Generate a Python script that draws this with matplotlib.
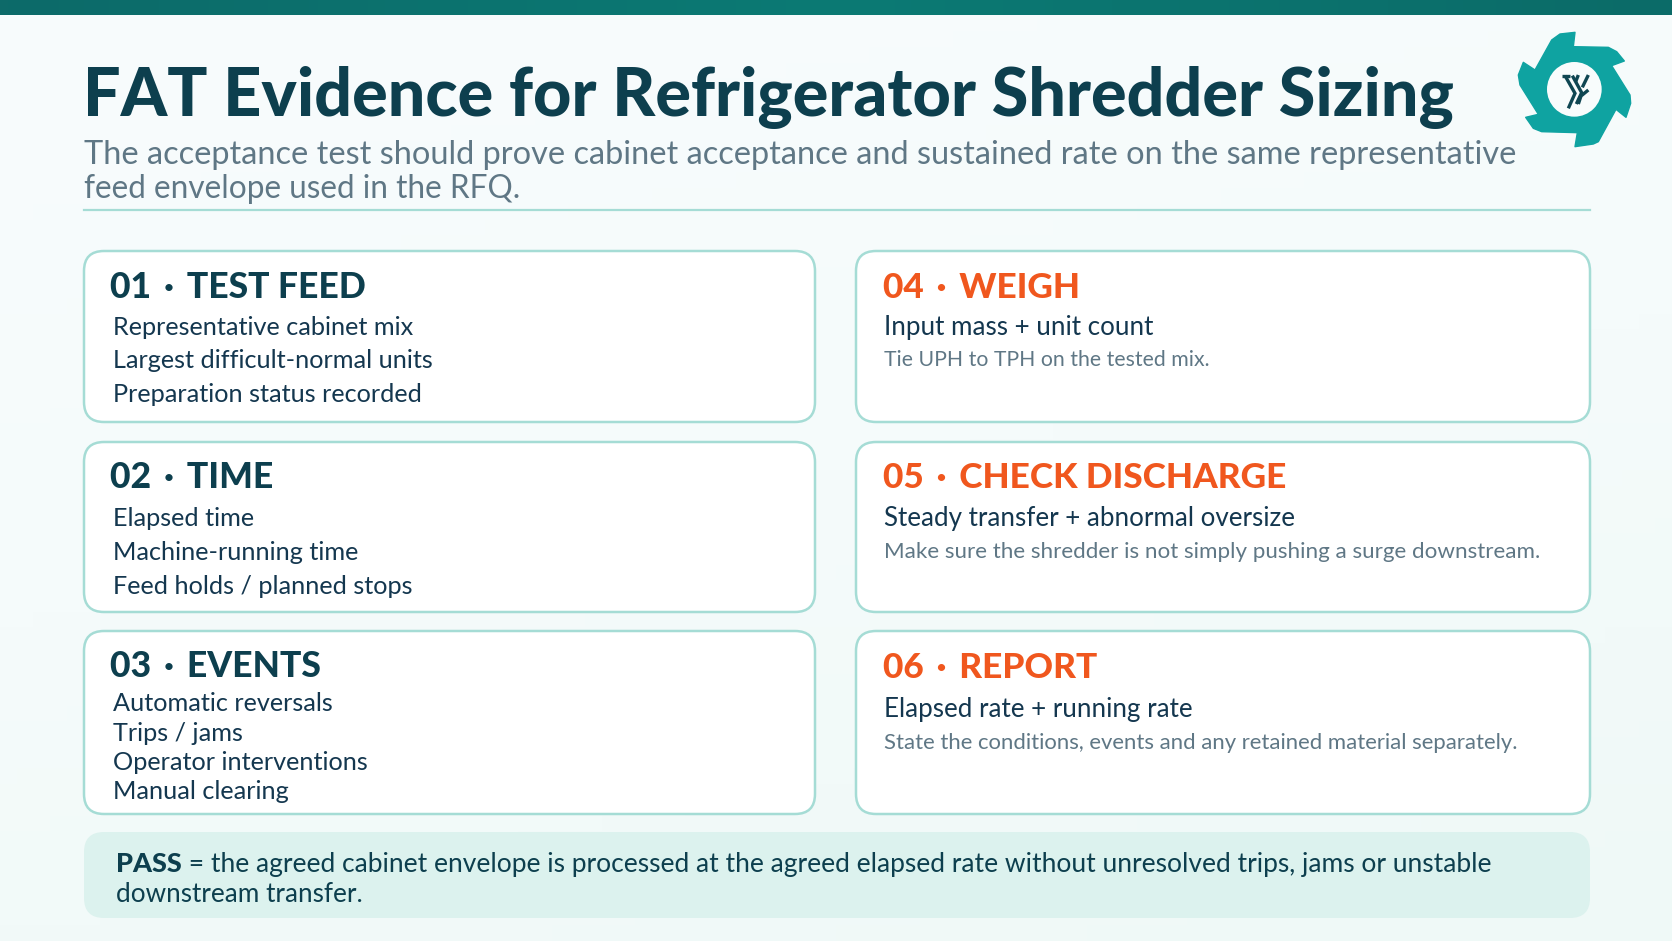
import numpy as np
import matplotlib
matplotlib.use("Agg")
import matplotlib.pyplot as plt
from matplotlib.patches import FancyBboxPatch, Polygon, Circle
from matplotlib.colors import LinearSegmentedColormap

FONT = "Lato"
TITLE = "FAT Evidence for Refrigerator Shredder Sizing"
SUBTITLE = ["The acceptance test should prove cabinet acceptance and sustained rate on the same representative",
            "feed envelope used in the RFQ."]
SEP = " \u2009\u00b7\u2009 "
LEFT_HEADS = ["01" + SEP + "TEST FEED", "02" + SEP + "TIME", "03" + SEP + "EVENTS"]
LEFT_LINES = [["Representative cabinet mix", "Largest difficult-normal units", "Preparation status recorded"],
              ["Elapsed time", "Machine-running time", "Feed holds / planned stops"],
              ["Automatic reversals", "Trips / jams", "Operator interventions", "Manual clearing"]]
RIGHT_HEADS = ["04" + SEP + "WEIGH", "05" + SEP + "CHECK DISCHARGE", "06" + SEP + "REPORT"]
RIGHT_LINES = ["Input mass + unit count", "Steady transfer + abnormal oversize", "Elapsed rate + running rate"]
RIGHT_NOTES = ["Tie UPH to TPH on the tested mix.",
               "Make sure the shredder is not simply pushing a surge downstream.",
               "State the conditions, events and any retained material separately."]
PASS_BOLD = "PASS"
PASS_1 = " = the agreed cabinet envelope is processed at the agreed elapsed rate without unresolved trips, jams or unstable"
PASS_2 = "downstream transfer."

DARK = "#0d3f4e"; BODY = "#14374f"; GREY = "#5f7785"; ORANGE = "#f0571e"
EDGE = "#a5dcd5"; TEAL = "#0fa3a1"

fig = plt.figure(figsize=(16.72, 9.41), dpi=100)
ax = fig.add_axes([0, 0, 1, 1])
ax.set_xlim(0, 1672); ax.set_ylim(941, 0); ax.axis("off")

# background gradients
cm = LinearSegmentedColormap.from_list("bg", ["#f8fcfd", "#f5fbfb", "#eff9f7"])
yy, xx = np.mgrid[0:1:60j, 0:1:100j]
ax.imshow(0.75 * yy + 0.25 * xx, cmap=cm, extent=(0, 1672, 941, 0), aspect="auto", zorder=0)
cm2 = LinearSegmentedColormap.from_list("band", ["#0d6a69", "#0b7a74", "#0b6b68"])
ax.imshow(np.linspace(0, 1, 200)[None, :], cmap=cm2, extent=(0, 1672, 15, 0), aspect="auto", zorder=1)
ax.set_xlim(0, 1672); ax.set_ylim(941, 0)

def box(x0, y0, x1, y1, fc, ec, lw=1.8):
    ax.add_patch(FancyBboxPatch((x0 + 20, y0 + 20), x1 - x0 - 40, y1 - y0 - 40,
                                boxstyle="round,pad=20,rounding_size=20", fc=fc, ec=ec, lw=lw, zorder=2))

def txt(x, y, s, size, color, weight="normal"):
    return ax.text(x, y, s, fontsize=size, color=color, fontweight=weight, family=[FONT, "DejaVu Sans"],
                   ha="left", va="baseline", zorder=4)

# header
txt(83, 116, TITLE, 47.9, DARK, 900)
txt(84, 164, SUBTITLE[0], 23.42, GREY)
txt(84, 198, SUBTITLE[1], 22.7, GREY)
ax.plot([84, 1590], [210, 210], color=EDGE, lw=1.6, zorder=2)

# cards
tops = [251, 442, 631]; bottoms = [422, 612, 814]
head_y = [298, 488, 677]
left_y = [[335, 368, 402], [526, 560, 594], [711, 741, 770, 799]]
right_y = [335, 526, 717]; note_y = [366, 558, 749]
note_sizes = [15.3, 16.1, 15.95]
for i in range(3):
    box(84, tops[i], 815, bottoms[i], "white", EDGE)
    box(856, tops[i], 1590, bottoms[i], "white", EDGE)
    txt(110, head_y[i], LEFT_HEADS[i], 25.6, DARK, 900)
    for s, y in zip(LEFT_LINES[i], left_y[i]):
        txt(113, y, s, 18.2, BODY)
    txt(883, head_y[i] + (1 if i == 2 else 0), RIGHT_HEADS[i], 25.4, ORANGE, 900)
    txt(884, right_y[i], RIGHT_LINES[i], 18.75, BODY)
    txt(884, note_y[i], RIGHT_NOTES[i], note_sizes[i], GREY)

# pass band
box(84, 832, 1590, 918, "#dcf2ee", "none", 0)
t = txt(116, 872, PASS_BOLD, 19.5, DARK, 900)
fig.canvas.draw()
w = t.get_window_extent().width
txt(116 + w, 872, PASS_1, 18.98, DARK)
txt(116, 902, PASS_2, 18.8, DARK)

# logo
def lx(p): return [(1480 + a / 3, b / 3) for a, b in p]
gear = [(285,97),(280,140),(385,142),(410,155),(433,183),(395,197),(450,285),(452,310),(438,352),
        (408,328),(355,425),(340,432),(285,440),(292,398),(185,395),(160,385),(137,352),(175,343),
        (120,255),(115,225),(130,187),(165,210),(215,120),(240,102)]
ax.add_patch(Polygon(lx(gear), closed=True, fc=TEAL, ec=TEAL, lw=1, joinstyle="round", zorder=3))
ax.add_patch(Circle((1480 + 283 / 3, 268 / 3), 82 / 3, fc="#f8fcfc", ec="none", zorder=4))
def wx(p): return [(1545 + a / 3, 60 + b / 3) for a, b in p]
for stroke in ([(50,47),(76,47)], [(60,47),(90,100),(70,145)], [(82,47),(110,98),(94,132)],
               [(130,45),(112,82)], [(100,45),(92,65)], [(130,90),(108,108),(100,132)]):
    a = wx(stroke)
    ax.plot([q[0] for q in a], [q[1] for q in a], color="#0f4652", lw=2.4, zorder=5,
            solid_capstyle="butt", solid_joinstyle="miter")

fig.savefig("out.png", dpi=100)
